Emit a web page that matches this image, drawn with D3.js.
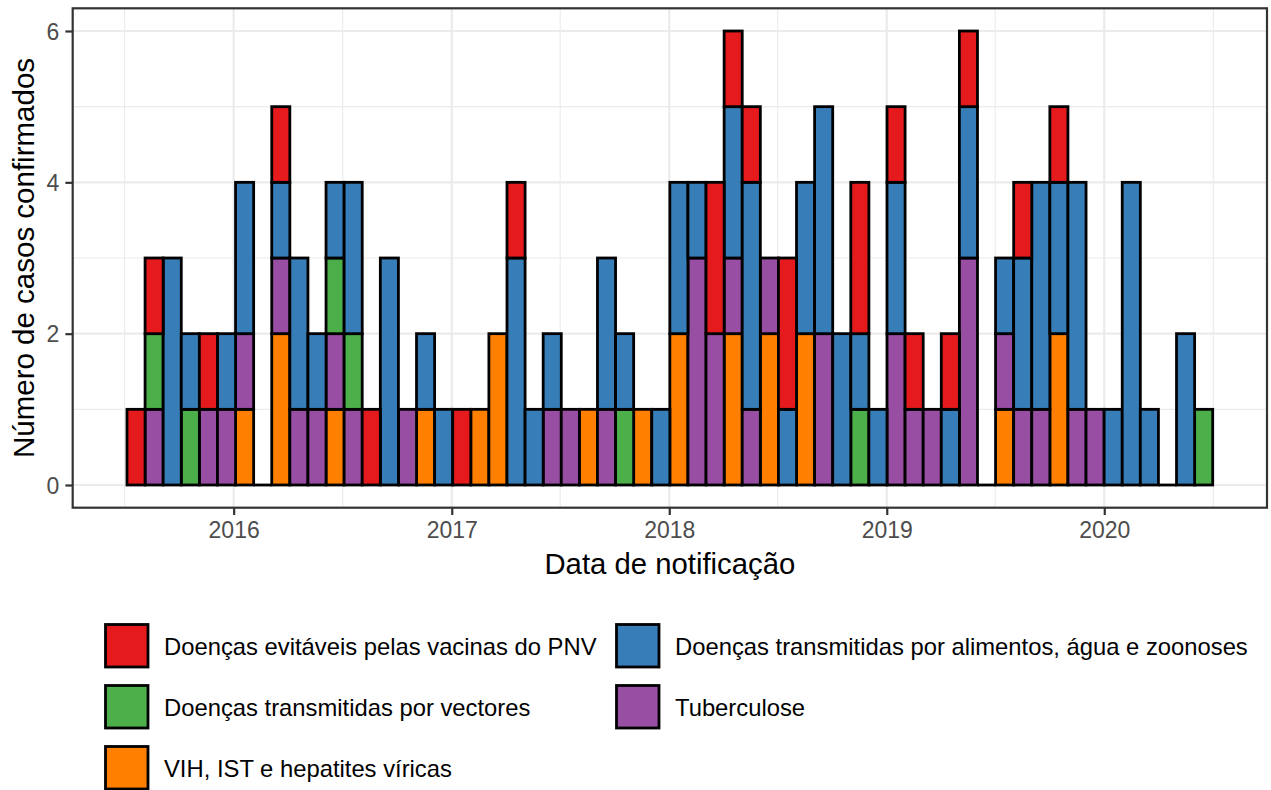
<!DOCTYPE html>
<html><head><meta charset="utf-8">
<script src="https://cdn.jsdelivr.net/npm/d3@7"></script>
<style>
body{margin:0;background:#fff}
svg{display:block}
text{font-family:"Liberation Sans", Arial, Helvetica, sans-serif}
</style>
</head><body>
<svg id="chart" width="1271" height="790"></svg>
<script>
// ---- data ----
const months = [
 "2015-07","2015-08","2015-09","2015-10","2015-11","2015-12",
 "2016-01","2016-02","2016-03","2016-04","2016-05","2016-06","2016-07","2016-08","2016-09","2016-10","2016-11","2016-12",
 "2017-01","2017-02","2017-03","2017-04","2017-05","2017-06","2017-07","2017-08","2017-09","2017-10","2017-11","2017-12",
 "2018-01","2018-02","2018-03","2018-04","2018-05","2018-06","2018-07","2018-08","2018-09","2018-10","2018-11","2018-12",
 "2019-01","2019-02","2019-03","2019-04","2019-05","2019-06","2019-07","2019-08","2019-09","2019-10","2019-11","2019-12",
 "2020-01","2020-02","2020-03","2020-04","2020-05","2020-06"
];
const vacinas    = [1,1,0,0,1,0,0,0,1,0, 0,0,0,1,0,0,0,0,1,0, 0,1,0,0,0,0,0,0,0,0, 0,0,2,1,1,0,2,0,0,0, 2,0,1,1,0,1,1,0,0,1, 0,1,0,0,0,0,0,0,0,0];
const alimentos  = [0,0,3,1,0,1,2,0,1,2, 1,1,2,0,3,0,1,1,0,0, 0,3,1,1,0,0,2,1,0,1, 2,1,0,2,3,0,1,2,3,2, 1,1,2,0,0,1,2,0,1,2, 3,2,3,0,1,4,1,0,2,0];
const vectores   = [0,1,0,1,0,0,0,0,0,0, 0,1,1,0,0,0,0,0,0,0, 0,0,0,0,0,0,0,1,0,0, 0,0,0,0,0,0,0,0,0,0, 1,0,0,0,0,0,0,0,0,0, 0,0,0,0,0,0,0,0,0,1];
const tuberculose= [0,1,0,0,1,1,1,0,1,1, 1,1,1,0,0,1,0,0,0,0, 0,0,0,1,1,0,1,0,0,0, 0,3,2,1,1,1,0,0,2,0, 0,0,2,1,1,0,3,0,1,1, 1,0,1,1,0,0,0,0,0,0];
const vih        = [0,0,0,0,0,0,1,0,2,0, 0,1,0,0,0,0,1,0,0,1, 2,0,0,0,0,1,0,0,1,0, 2,0,0,2,0,2,0,2,0,0, 0,0,0,0,0,0,0,0,1,0, 0,2,0,0,0,0,0,0,0,0];

const seriesNames = [
  "Doenças evitáveis pelas vacinas do PNV",
  "Doenças transmitidas por alimentos, água e zoonoses",
  "Doenças transmitidas por vectores",
  "Tuberculose",
  "VIH, IST e hepatites víricas"
];
const seriesKeys = ["vacinas","alimentos","vectores","tuberculose","vih"];
const seriesColors = ["#E41A1C","#377EB8","#4DAF4A","#984EA3","#FF7F00"];
const stackOrder = ["vih","tuberculose","vectores","alimentos","vacinas"]; // bottom -> top

const binStart = new Date(Date.UTC(2015,6,6));
const binEnd   = new Date(Date.UTC(2020,6,1));

const xTickValues = [2016,2017,2018,2019,2020];
const xTickLabels = ["2016","2017","2018","2019","2020"];
const xMinorYears = [2015,2016,2017,2018,2019,2020];
const yTickValues = [0,2,4,6];
const yTickLabels = ["0","2","4","6"];
const yMinorValues = [1,3,5];

const xTitle = "Data de notificação";
const yTitle = "Número de casos confirmados";

// ---- build table ----
const seriesData = {vacinas, alimentos, vectores, tuberculose, vih};
const table = months.map((m,i) => {
  const row = {month:m, i:i};
  seriesKeys.forEach(k => row[k] = seriesData[k][i]);
  return row;
});

// ---- layout ----
const svg = d3.select("#chart");
const P = {left:72.7, right:1267, top:8.3, bottom:507.7};

const edge = d3.scaleLinear().domain([0, months.length]).range([binStart, binEnd]);
const span = binEnd - binStart;
const x = d3.scaleUtc()
  .domain([new Date(+binStart - 0.05*span), new Date(+binEnd + 0.05*span)])
  .range([P.left, P.right]);
const y = d3.scaleLinear().domain([-0.3, 6.3]).range([P.bottom, P.top]);

svg.append("rect").attr("width",1271).attr("height",790).attr("fill","#fff");

const grid = svg.append("g");
// minor grid
grid.selectAll(".xminor").data(xMinorYears).join("line")
  .attr("x1", d => x(new Date(Date.UTC(d,6,2)))).attr("x2", d => x(new Date(Date.UTC(d,6,2))))
  .attr("y1", P.top).attr("y2", P.bottom)
  .attr("stroke","#EBEBEB").attr("stroke-width",1.1);
grid.selectAll(".yminor").data(yMinorValues).join("line")
  .attr("x1", P.left).attr("x2", P.right)
  .attr("y1", d => y(d)).attr("y2", d => y(d))
  .attr("stroke","#EBEBEB").attr("stroke-width",1.1);
// major grid
grid.selectAll(".xmajor").data(xTickValues).join("line")
  .attr("x1", d => x(new Date(Date.UTC(d,0,1)))).attr("x2", d => x(new Date(Date.UTC(d,0,1))))
  .attr("y1", P.top).attr("y2", P.bottom)
  .attr("stroke","#EBEBEB").attr("stroke-width",2.2);
grid.selectAll(".ymajor").data(yTickValues).join("line")
  .attr("x1", P.left).attr("x2", P.right)
  .attr("y1", d => y(d)).attr("y2", d => y(d))
  .attr("stroke","#EBEBEB").attr("stroke-width",2.2);

// ---- bars ----
const stacked = d3.stack().keys(stackOrder)(table);
const colorOf = k => seriesColors[seriesKeys.indexOf(k)];
const bars = svg.append("g");
stacked.forEach(layer => {
  bars.append("g").attr("fill", colorOf(layer.key))
    .selectAll("rect").data(layer.filter(d => d[1] > d[0])).join("rect")
    .attr("x", d => x(edge(d.data.i)))
    .attr("width", d => x(edge(d.data.i+1)) - x(edge(d.data.i)))
    .attr("y", d => y(d[1]))
    .attr("height", d => y(d[0]) - y(d[1]))
    .attr("stroke","#000").attr("stroke-width",2.8);
});
// empty bins drawn as zero-height outlines
bars.append("g").selectAll("line")
  .data(table.filter(r => d3.sum(seriesKeys, k => r[k]) === 0)).join("line")
  .attr("x1", d => x(edge(d.i))).attr("x2", d => x(edge(d.i+1)))
  .attr("y1", y(0)).attr("y2", y(0))
  .attr("stroke","#000").attr("stroke-width",2.8);

// ---- panel border ----
svg.append("rect")
  .attr("x",P.left).attr("y",P.top)
  .attr("width",P.right-P.left).attr("height",P.bottom-P.top)
  .attr("fill","none").attr("stroke","#333333").attr("stroke-width",2.2);

// ---- axes ----
const xAxis = svg.append("g").attr("transform",`translate(0,${P.bottom})`)
  .call(d3.axisBottom(x)
    .tickValues(xTickValues.map(yv => new Date(Date.UTC(yv,0,1))))
    .tickFormat((d,i) => xTickLabels[i])
    .tickSize(7.3).tickPadding(7));
xAxis.select(".domain").remove();
xAxis.selectAll(".tick line").attr("stroke","#333333").attr("stroke-width",2.2);
xAxis.selectAll(".tick text").attr("fill","#4D4D4D").attr("font-size","23px")
  .attr("font-family",'"Liberation Sans", Arial, sans-serif').attr("dy","0.71em");

const yAxis = svg.append("g").attr("transform",`translate(${P.left},0)`)
  .call(d3.axisLeft(y).tickValues(yTickValues)
    .tickFormat((d,i) => yTickLabels[i])
    .tickSize(7.3).tickPadding(6));
yAxis.select(".domain").remove();
yAxis.selectAll(".tick line").attr("stroke","#333333").attr("stroke-width",2.2);
yAxis.selectAll(".tick text").attr("fill","#4D4D4D").attr("font-size","23px")
  .attr("font-family",'"Liberation Sans", Arial, sans-serif').attr("dy","0.36em");

// ---- titles ----
svg.append("text").attr("x",(P.left+P.right)/2).attr("y",574)
  .attr("text-anchor","middle").attr("font-size","29.3px").attr("fill","#000").text(xTitle);
svg.append("text")
  .attr("transform",`translate(33.5,${(P.top+P.bottom)/2}) rotate(-90)`)
  .attr("text-anchor","middle").attr("font-size","29.5px").attr("fill","#000").text(yTitle);

// ---- legend (2 columns, by row) ----
const legendOrder = [0,1,2,3,4];
const colX = [105.5, 616.5];
const rowY = [624.5, 685.5, 746.5];
const keyS = 42.5;
const lg = svg.append("g");
legendOrder.forEach((si, j) => {
  const cx = colX[j % 2], ry = rowY[Math.floor(j/2)];
  lg.append("rect").attr("x",cx).attr("y",ry).attr("width",keyS).attr("height",keyS)
    .attr("fill",seriesColors[si]).attr("stroke","#000").attr("stroke-width",2.8);
  lg.append("text").attr("x",cx+58.5).attr("y",ry+keyS/2+9.3)
    .attr("font-size","23.8px").attr("fill","#000").text(seriesNames[si]);
});
</script>
</body></html>
